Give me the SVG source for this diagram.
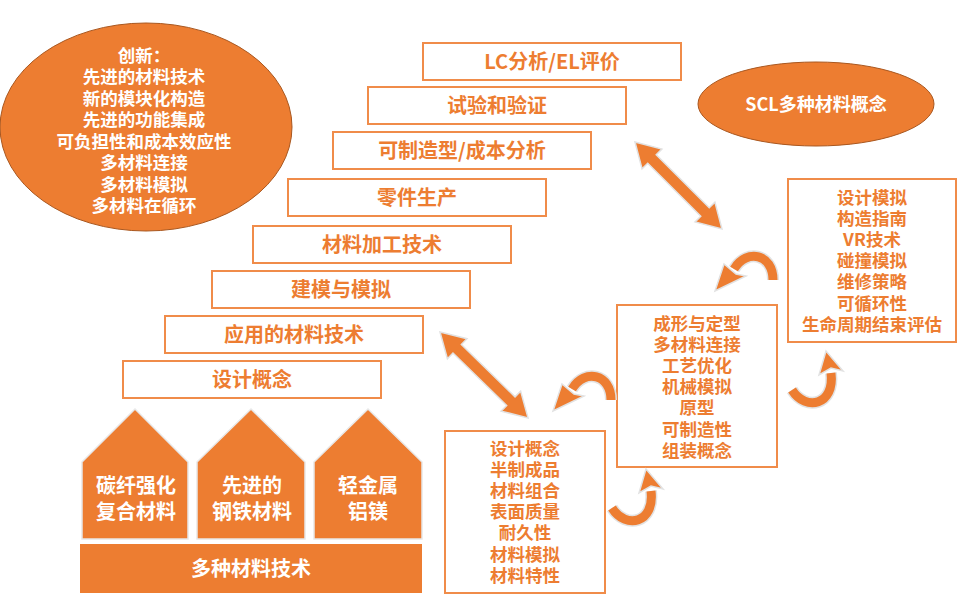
<svg xmlns="http://www.w3.org/2000/svg" width="958" height="604" viewBox="0 0 958 604">
<style>
text{font-family:"Noto Sans CJK SC","Noto Sans",sans-serif;font-weight:bold;text-anchor:middle}
.w{fill:#FFFFFF}
.o{fill:#ED7D31}
.s20{font-size:20px}
.s17{font-size:17.5px}
.box{fill:#FFFFFF;stroke:#F08C4A;stroke-width:2}
.ell{fill:#ED7D31;stroke:#A9571F;stroke-width:1}
.house{fill:#ED7D31;stroke:#E8E8E8;stroke-width:1.5}
.arr{fill:#ED7D31;stroke:#E2E2E2;stroke-width:1.5}
.band{fill:none;stroke:#ED7D31;stroke-width:9}
.halo{fill:none;stroke:#E2E2E2;stroke-width:12}
</style>
<rect width="958" height="604" fill="#FFFFFF"/>

<g id="innovation">
<ellipse class="ell" cx="146" cy="127" rx="146" ry="104"/>
<text class="w s17" x="144" y="61.5">创新：<tspan x="144" dy="21.5">先进的材料技术</tspan><tspan x="144" dy="21.5">新的模块化构造</tspan><tspan x="144" dy="21.5">先进的功能集成</tspan><tspan x="144" dy="21.5">可负担性和成本效应性</tspan><tspan x="144" dy="21.5">多材料连接</tspan><tspan x="144" dy="21.5">多材料模拟</tspan><tspan x="144" dy="21.5">多材料在循环</tspan></text>
</g>

<g id="scl">
<ellipse class="ell" cx="816" cy="104" rx="118" ry="42"/>
<text class="w" style="font-size:18px" x="816" y="110.5">SCL多种材料概念</text>
</g>

<g id="step-lc">
<rect class="box" x="423" y="43" width="258" height="37"/>
<text class="o s20" x="552" y="68.5">LC分析/EL评价</text>
</g>
<g id="step-test">
<rect class="box" x="368" y="87" width="258" height="37"/>
<text class="o s20" x="497" y="112.5">试验和验证</text>
</g>
<g id="step-manuf">
<rect class="box" x="333" y="132" width="258" height="37"/>
<text class="o s20" x="462" y="157.5">可制造型/成本分析</text>
</g>
<g id="step-parts">
<rect class="box" x="288" y="179" width="258" height="37"/>
<text class="o s20" x="417" y="204.5">零件生产</text>
</g>
<g id="step-process">
<rect class="box" x="253" y="226" width="258" height="37"/>
<text class="o s20" x="382" y="251.5">材料加工技术</text>
</g>
<g id="step-model">
<rect class="box" x="212" y="271" width="258" height="37"/>
<text class="o s20" x="341" y="296.5">建模与模拟</text>
</g>
<g id="step-applied">
<rect class="box" x="165" y="316" width="258" height="37"/>
<text class="o s20" x="294" y="341.5">应用的材料技术</text>
</g>
<g id="step-design">
<rect class="box" x="123" y="361" width="258" height="37"/>
<text class="o s20" x="252" y="386.5">设计概念</text>
</g>

<g id="box-right">
<rect class="box" x="788" y="179" width="168" height="163"/>
<text class="o s17" x="872" y="203.5">设计模拟<tspan x="872" dy="21.2">构造指南</tspan><tspan x="872" dy="21.2">VR技术</tspan><tspan x="872" dy="21.2">碰撞模拟</tspan><tspan x="872" dy="21.2">维修策略</tspan><tspan x="872" dy="21.2">可循环性</tspan><tspan x="872" dy="21.2">生命周期结束评估</tspan></text>
</g>

<g id="box-middle">
<rect class="box" x="617" y="305" width="160" height="162"/>
<text class="o s17" x="697" y="329.5">成形与定型<tspan x="697" dy="21.2">多材料连接</tspan><tspan x="697" dy="21.2">工艺优化</tspan><tspan x="697" dy="21.2">机械模拟</tspan><tspan x="697" dy="21.2">原型</tspan><tspan x="697" dy="21.2">可制造性</tspan><tspan x="697" dy="21.2">组装概念</tspan></text>
</g>

<g id="box-bottom">
<rect class="box" x="445" y="431" width="160" height="162"/>
<text class="o s17" x="525" y="454.5">设计概念<tspan x="525" dy="21.2">半制成品</tspan><tspan x="525" dy="21.2">材料组合</tspan><tspan x="525" dy="21.2">表面质量</tspan><tspan x="525" dy="21.2">耐久性</tspan><tspan x="525" dy="21.2">材料模拟</tspan><tspan x="525" dy="21.2">材料特性</tspan></text>
</g>

<g id="house-carbon">
<polygon class="house" points="82,462 135,409 188,462 188,539 82,539"/>
<text class="w s20" x="136" y="493">碳纤强化<tspan x="136" dy="26">复合材料</tspan></text>
</g>
<g id="house-steel">
<polygon class="house" points="197,462 251,409 305,462 305,539 197,539"/>
<text class="w s20" x="252" y="493">先进的<tspan x="252" dy="26">钢铁材料</tspan></text>
</g>
<g id="house-light">
<polygon class="house" points="314,462 368,409 422,462 422,539 314,539"/>
<text class="w s20" x="368" y="493">轻金属<tspan x="368" dy="26">铝镁</tspan></text>
</g>
<g id="base">
<rect x="80" y="544" width="342" height="49" fill="#ED7D31"/>
<text class="w s20" x="251" y="576">多种材料技术</text>
</g>

<g id="connectors">
<g transform="translate(440,332) rotate(44.3)">
<polygon class="arr" points="0,0 24,-14 24,-6 99,-6 99,-14 123,0 99,14 99,6 24,6 24,14"/>
</g>
<g transform="translate(635,142) rotate(45)">
<polygon class="arr" points="0,0 24,-14 24,-6 99,-6 99,-14 123,0 99,14 99,6 24,6 24,14"/>
</g>
<g id="curveA">
<path class="halo" d="M 611,400 C 611,374 585,368 572,389"/>
<path class="band" d="M 611,400 C 611,374 585,368 572,389"/>
<polygon class="arr" points="562,384 553,411 584,396 574,394"/>
</g>
<g transform="translate(162,-120)">
<path class="halo" d="M 611,400 C 611,374 585,368 572,389"/>
<path class="band" d="M 611,400 C 611,374 585,368 572,389"/>
<polygon class="arr" points="562,384 553,411 584,396 574,394"/>
</g>
<g id="curveC">
<path class="halo" d="M 792,390 C 806,412 835,405 831,373"/>
<path class="band" d="M 792,390 C 806,412 835,405 831,373"/>
<polygon class="arr" points="819,375 826,351 843,371 831,368"/>
</g>
<g transform="translate(-180,118)">
<path class="halo" d="M 792,390 C 806,412 835,405 831,373"/>
<path class="band" d="M 792,390 C 806,412 835,405 831,373"/>
<polygon class="arr" points="819,375 826,351 843,371 831,368"/>
</g>
</g>
</svg>
